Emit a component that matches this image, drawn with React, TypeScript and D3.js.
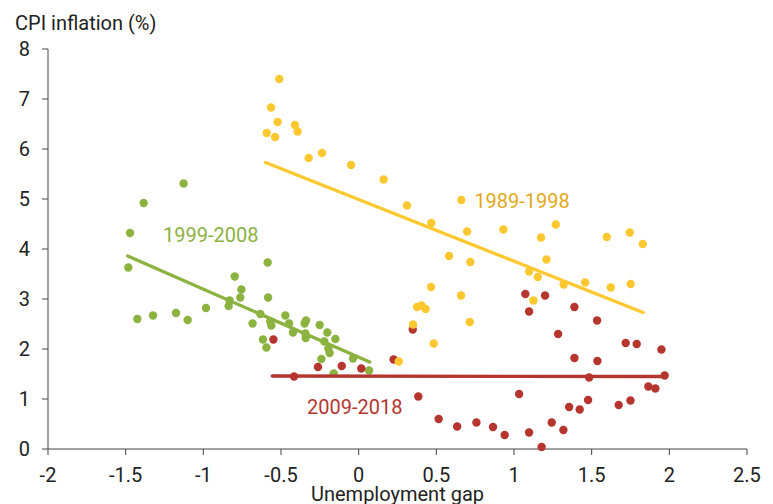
import * as d3 from "d3"

// unemployment gap / CPI inflation
const s1989x = [-0.511, -0.564, -0.522, -0.592, -0.538, -0.41, -0.393, -0.322, -0.236, -0.049, 0.161, 0.311, 0.468, 0.661, 0.698, 0.582, 0.719, 0.932, 1.174, 1.269, 1.209, 1.097, 1.153, 1.32, 1.458, 1.623, 1.751, 1.597, 1.745, 1.829, 1.125, 0.466, 0.376, 0.404, 0.431, 0.659, 0.715, 0.35, 0.483, 0.258]
const s1989y = [7.4, 6.83, 6.54, 6.32, 6.24, 6.48, 6.35, 5.82, 5.92, 5.68, 5.39, 4.87, 4.52, 4.98, 4.35, 3.86, 3.74, 4.39, 4.23, 4.49, 3.79, 3.55, 3.44, 3.29, 3.33, 3.23, 3.3, 4.24, 4.33, 4.1, 2.97, 3.24, 2.84, 2.87, 2.8, 3.07, 2.54, 2.49, 2.11, 1.75]

const s1999x = [-1.127, -1.384, -1.472, -1.483, -1.425, -1.324, -1.176, -1.101, -0.983, -0.837, -0.831, -0.798, -0.755, -0.762, -0.586, -0.583, -0.683, -0.633, -0.616, -0.594, -0.569, -0.562, -0.472, -0.448, -0.423, -0.348, -0.339, -0.343, -0.341, -0.251, -0.202, -0.15, -0.221, -0.195, -0.187, -0.24, -0.036, -0.161, 0.067]
const s1999y = [5.31, 4.92, 4.32, 3.63, 2.6, 2.67, 2.72, 2.58, 2.82, 2.86, 2.97, 3.45, 3.19, 3.03, 3.73, 3.03, 2.51, 2.7, 2.19, 2.03, 2.55, 2.47, 2.67, 2.51, 2.33, 2.51, 2.57, 2.31, 2.22, 2.48, 2.33, 2.2, 2.15, 2.01, 1.92, 1.8, 1.81, 1.51, 1.57]

const s2009x = [-0.549, -0.262, -0.109, 0.017, -0.416, 0.225, 0.348, 0.384, 0.515, 0.634, 0.758, 0.865, 0.94, 1.033, 1.097, 1.178, 1.243, 1.318, 1.355, 1.423, 1.477, 1.484, 1.389, 1.537, 1.284, 1.389, 1.535, 1.073, 1.2, 1.097, 1.674, 1.75, 1.719, 1.79, 1.949, 1.865, 1.91, 1.97]
const s2009y = [2.19, 1.64, 1.66, 1.61, 1.45, 1.79, 2.39, 1.05, 0.6, 0.45, 0.53, 0.44, 0.28, 1.1, 0.33, 0.04, 0.53, 0.38, 0.84, 0.79, 0.98, 1.43, 1.82, 1.76, 2.3, 2.84, 2.57, 3.1, 3.07, 2.75, 0.88, 0.97, 2.12, 2.1, 1.99, 1.25, 1.21, 1.47]

// fitted trend lines (end points)
const fit1989 = [[-0.599, 5.73], [1.831, 2.73]]
const fit1999 = [[-1.487, 3.86], [0.071, 1.74]]
const fit2009 = [[-0.556, 1.46], [1.97, 1.45]]

const xTicks = [-2, -1.5, -1, -0.5, 0, 0.5, 1, 1.5, 2, 2.5]
const yTicks = [0, 1, 2, 3, 4, 5, 6, 7, 8]

const GREEN = "#8cb23f", YELLOW = "#fdc82f", RED = "#b5352f"

const series = [
  { name: "1999-2008", xs: s1999x, ys: s1999y, fit: fit1999, color: GREEN, text: GREEN, lx: -1.259, ly: 4.28 },
  { name: "2009-2018", xs: s2009x, ys: s2009y, fit: fit2009, color: RED, text: RED, lx: -0.332, ly: 0.85 },
  { name: "1989-1998", xs: s1989x, ys: s1989y, fit: fit1989, color: YELLOW, text: "#e3a81b", lx: 0.745, ly: 4.96 },
]

export default function App() {
  const W = 773, H = 504
  const x = d3.scaleLinear().domain([-2, 2.5]).range([48, 747])
  const y = d3.scaleLinear().domain([0, 8]).range([449, 49])
  const line = d3.line<number[]>().x(d => x(d[0])).y(d => y(d[1]))
  const font = "Roboto, 'Noto Sans', sans-serif"
  const axisC = "#444"

  return (
    <svg width={W} height={H} style={{ position: "absolute", left: 0, top: 0, fontFamily: font }}>
      <rect width={W} height={H} fill="#fff" />
      {/* y axis */}
      <line x1={x(-2)} x2={x(-2)} y1={y(0)} y2={y(8)} stroke={axisC} strokeWidth={1} />
      {yTicks.map(t => (
        <g key={t}>
          <line x1={x(-2) - 6} x2={x(-2)} y1={y(t)} y2={y(t)} stroke={axisC} />
          <text x={x(-2) - 18} y={y(t)} dy="0.35em" textAnchor="end" fontSize={20} fill="#222">{t}</text>
        </g>
      ))}
      {/* x axis */}
      <line x1={x(-2)} x2={x(2.5)} y1={y(0)} y2={y(0)} stroke={axisC} strokeWidth={1} />
      {xTicks.map(t => (
        <g key={t}>
          <line x1={x(t)} x2={x(t)} y1={y(0)} y2={y(0) + 6} stroke={axisC} />
          <text x={x(t)} y={y(0) + 33} textAnchor="middle" fontSize={20} fill="#222">{t}</text>
        </g>
      ))}
      <text x={15} y={30} fontSize={20} fill="#222">CPI inflation (%)</text>
      <text x={(x(-2) + x(2.5)) / 2} y={501} textAnchor="middle" fontSize={20} fill="#222">Unemployment gap</text>

      {series.map(s => (
        <g key={s.name}>
          {s.xs.map((v, i) => (
            <circle key={i} cx={x(v)} cy={y(s.ys[i])} r={4.2} fill={s.color} />
          ))}
          <path d={line(s.fit) || ""} stroke={s.color} strokeWidth={3.3} strokeLinecap="round" fill="none" />
          <text x={x(s.lx)} y={y(s.ly)} dy="0.35em" fontSize={20} fill={s.text}>{s.name}</text>
        </g>
      ))}
    </svg>
  )
}
